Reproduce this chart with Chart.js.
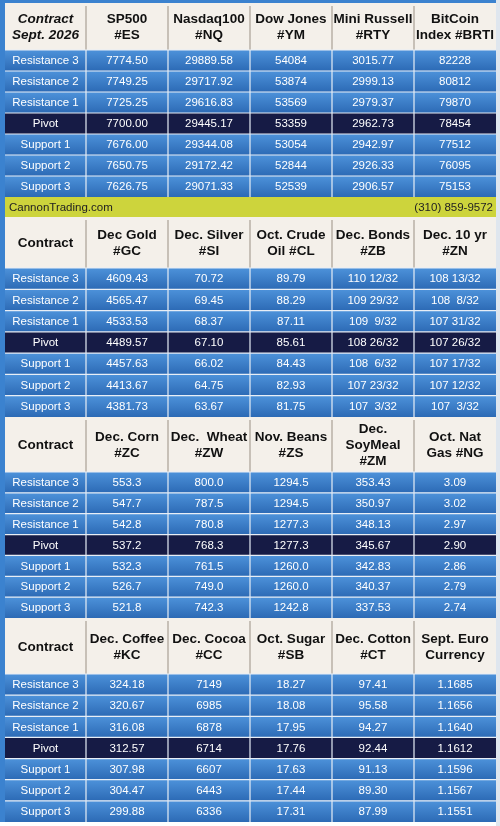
<!DOCTYPE html>
<html><head><meta charset="utf-8">
<script src="https://cdn.jsdelivr.net/npm/chart.js@4"></script>
<style>html,body{margin:0;padding:0;background:#fff;}canvas{display:block;}</style>
</head><body>
<canvas id="c" width="500" height="826"></canvas>
<script>
const rowLabels = ["Resistance 3","Resistance 2","Resistance 1","Pivot","Support 1","Support 2","Support 3"];
const headers1 = ["Contract\nSept. 2026","SP500\n#ES","Nasdaq100\n#NQ","Dow Jones\n#YM","Mini Russell\n#RTY","BitCoin\nIndex #BRTI"];
const values1 = [
 ["7774.50","29889.58","54084","3015.77","82228"],
 ["7749.25","29717.92","53874","2999.13","80812"],
 ["7725.25","29616.83","53569","2979.37","79870"],
 ["7700.00","29445.17","53359","2962.73","78454"],
 ["7676.00","29344.08","53054","2942.97","77512"],
 ["7650.75","29172.42","52844","2926.33","76095"],
 ["7626.75","29071.33","52539","2906.57","75153"]];
const bannerLeft = "CannonTrading.com";
const bannerRight = "(310) 859-9572";
const headers2 = ["Contract","Dec Gold\n#GC","Dec. Silver\n#SI","Oct. Crude\nOil #CL","Dec. Bonds\n#ZB","Dec. 10 yr\n#ZN"];
const values2 = [
 ["4609.43","70.72","89.79","110 12/32","108 13/32"],
 ["4565.47","69.45","88.29","109 29/32","108  8/32"],
 ["4533.53","68.37","87.11","109  9/32","107 31/32"],
 ["4489.57","67.10","85.61","108 26/32","107 26/32"],
 ["4457.63","66.02","84.43","108  6/32","107 17/32"],
 ["4413.67","64.75","82.93","107 23/32","107 12/32"],
 ["4381.73","63.67","81.75","107  3/32","107  3/32"]];
const headers3 = ["Contract","Dec. Corn\n#ZC","Dec.  Wheat\n#ZW","Nov. Beans\n#ZS","Dec.\nSoyMeal\n#ZM","Oct. Nat\nGas #NG"];
const values3 = [
 ["553.3","800.0","1294.5","353.43","3.09"],
 ["547.7","787.5","1294.5","350.97","3.02"],
 ["542.8","780.8","1277.3","348.13","2.97"],
 ["537.2","768.3","1277.3","345.67","2.90"],
 ["532.3","761.5","1260.0","342.83","2.86"],
 ["526.7","749.0","1260.0","340.37","2.79"],
 ["521.8","742.3","1242.8","337.53","2.74"]];
const headers4 = ["Contract","Dec. Coffee\n#KC","Dec. Cocoa\n#CC","Oct. Sugar\n#SB","Dec. Cotton\n#CT","Sept. Euro\nCurrency"];
const values4 = [
 ["324.18","7149","18.27","97.41","1.1685"],
 ["320.67","6985","18.08","95.58","1.1656"],
 ["316.08","6878","17.95","94.27","1.1640"],
 ["312.57","6714","17.76","92.44","1.1612"],
 ["307.98","6607","17.63","91.13","1.1596"],
 ["304.47","6443","17.44","89.30","1.1567"],
 ["299.88","6336","17.31","87.99","1.1551"]];

// layout (not data)
const colEdges = [5,86,168,250,332,414,496];
const blocks = [
 {h:headers1,v:values1,top:3,hb:50,end:197,italic:true},
 {h:headers2,v:values2,top:217,hb:268,end:417},
 {h:headers3,v:values3,top:417,hb:472,end:618},
 {h:headers4,v:values4,top:618,hb:674,end:822}];
const banner = {top:197,bot:217};
const FONT = '"Liberation Sans", Arial, sans-serif';

const tablePlugin = {
 id:'table',
 beforeDraw(chart){
  const ctx = chart.ctx, X = chart.scales.x, Y = chart.scales.y;
  const px = v=>X.getPixelForValue(v), py = v=>Y.getPixelForValue(v);
  ctx.save();
  ctx.fillStyle='#ffffff'; ctx.fillRect(0,0,chart.width,chart.height);
  ctx.fillStyle='#3b82cf'; ctx.fillRect(px(0),py(0),px(colEdges[6])-px(0),py(blocks[3].end)-py(0));
  ctx.fillStyle='#dfe6ee'; ctx.fillRect(px(496),py(0),px(500)-px(496),py(826)-py(0));
  const L=px(colEdges[0]), R=px(colEdges[6]);
  blocks.forEach(b=>{
   ctx.fillStyle='#f4f0ea'; ctx.fillRect(L,py(b.top),R-L,py(b.hb)-py(b.top));
   ctx.strokeStyle='#b9b1a6'; ctx.lineWidth=1.5;
   for(let i=1;i<6;i++){ctx.beginPath();ctx.moveTo(px(colEdges[i]),py(b.top)+3);ctx.lineTo(px(colEdges[i]),py(b.hb));ctx.stroke();}
   ctx.fillStyle='#111'; ctx.textAlign='center'; ctx.textBaseline='middle';
   b.h.forEach((t,i)=>{
     const lines=t.split('\n');
     ctx.font=(b.italic&&i===0?'italic ':'')+'bold 13.5px '+FONT;
     const cx=(px(colEdges[i])+px(colEdges[i+1]))/2, cy=(py(b.top)+py(b.hb))/2+1;
     const lh=16;
     lines.forEach((ln,k)=>ctx.fillText(ln,cx,cy+(k-(lines.length-1)/2)*lh));
   });
   const rh=(b.end-b.hb)/7;
   for(let r=0;r<7;r++){
     const y0=py(b.hb+r*rh), y1=py(b.hb+(r+1)*rh);
     if(r===3){ctx.fillStyle='#161b45';}
     else{const g=ctx.createLinearGradient(0,y0,0,y1);g.addColorStop(0,'#4d92da');g.addColorStop(1,'#2c6ab5');ctx.fillStyle=g;}
     ctx.fillRect(L,y0,R-L,y1-y0);
     ctx.strokeStyle='#e8eef6'; ctx.lineWidth=1.2;
     ctx.beginPath();ctx.moveTo(L,y0);ctx.lineTo(R,y0);ctx.stroke();
     for(let i=1;i<6;i++){ctx.beginPath();ctx.moveTo(px(colEdges[i]),y0);ctx.lineTo(px(colEdges[i]),y1);ctx.stroke();}
     ctx.fillStyle='#ffffff'; ctx.font='11.5px '+FONT;
     const cy=(y0+y1)/2+0.5;
     ctx.fillText(rowLabels[r],(px(colEdges[0])+px(colEdges[1]))/2,cy);
     b.v[r].forEach((t,i)=>ctx.fillText(t,(px(colEdges[i+1])+px(colEdges[i+2]))/2,cy));
   }
  });
  ctx.fillStyle='#cdd43c'; ctx.fillRect(L,py(banner.top),R-L,py(banner.bot)-py(banner.top));
  ctx.fillStyle='#222'; ctx.font='11.5px '+FONT; ctx.textBaseline='middle';
  const by=(py(banner.top)+py(banner.bot))/2+0.5;
  ctx.textAlign='left'; ctx.fillText(bannerLeft,L+4,by);
  ctx.textAlign='right'; ctx.fillText(bannerRight,R-3,by);
  ctx.restore();
 }
};

new Chart(document.getElementById('c'),{
 type:'scatter',
 data:{datasets:[{data:[]}]},
 options:{responsive:false,animation:false,devicePixelRatio:1,
  layout:{padding:0},
  plugins:{legend:{display:false},tooltip:{enabled:false}},
  scales:{
   x:{type:'linear',min:0,max:500,display:false},
   y:{type:'linear',min:0,max:826,reverse:true,display:false}
  }},
 plugins:[tablePlugin]
});
</script>
</body></html>
